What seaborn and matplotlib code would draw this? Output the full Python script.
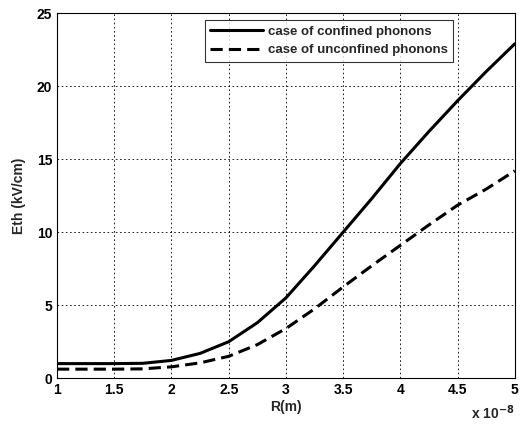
import numpy as np
import pandas as pd
import matplotlib
matplotlib.use("Agg")
import matplotlib.pyplot as plt
import matplotlib.ticker as mticker
import seaborn as sns

# --- Data ---
R_UNITS = [1.0, 1.25, 1.5, 1.75, 2.0, 2.25, 2.5, 2.75, 3.0, 3.25, 3.5, 3.75, 4.0, 4.25, 4.5, 4.75, 5.0]
ETH_CONFINED = [1.0, 1.0, 1.0, 1.02, 1.22, 1.7, 2.5, 3.8, 5.5, 7.7, 10.0, 12.3, 14.7, 16.9, 19.0, 21.0, 22.9]
ETH_UNCONFINED = [0.62, 0.62, 0.62, 0.64, 0.78, 1.05, 1.5, 2.3, 3.4, 4.75, 6.25, 7.7, 9.1, 10.5, 11.85, 12.95, 14.2]
LABELS = ["case of confined phonons", "case of unconfined phonons"]

R = np.array(R_UNITS) * 1e-8
df = pd.DataFrame({
    "R": np.concatenate([R, R]),
    "Eth": ETH_CONFINED + ETH_UNCONFINED,
    "case": [LABELS[0]] * len(R) + [LABELS[1]] * len(R),
})

# --- Plot ---
sns.set_style("white")
plt.rcParams["font.family"] = ["Liberation Sans", "DejaVu Sans"]
plt.rcParams["font.weight"] = "bold"

fig = plt.figure(figsize=(5.28, 4.24), dpi=100)
ax = fig.add_axes([0.108, 0.108, 0.867, 0.861])

sns.lineplot(data=df, x="R", y="Eth", hue="case", style="case",
             palette=["black", "black"], dashes=[(None, None), (4, 2)],
             linewidth=2.2, ax=ax)

ax.set_xlim(1e-8, 5e-8)
ax.set_ylim(0, 25)
ax.set_xticks(np.arange(1, 5.01, 0.5) * 1e-8)
ax.set_yticks([0, 5, 10, 15, 20, 25])
ax.xaxis.set_major_formatter(mticker.FuncFormatter(lambda v, p: f"{v*1e8:g}"))
ax.text(1.0, -0.07, r"x 10$^{-8}$", transform=ax.transAxes, ha="right", va="top",
        fontsize=10, fontweight="bold")

ax.grid(True, color="black", linestyle=(0, (2, 3)), linewidth=0.6)
for s in ax.spines.values():
    s.set_color("black")
    s.set_linewidth(0.8)
ax.tick_params(axis="both", direction="in", length=4, labelsize=10, colors="black")
for lab in ax.get_xticklabels() + ax.get_yticklabels():
    lab.set_fontweight("bold")

ax.set_xlabel("R(m)", fontsize=10, fontweight="bold", labelpad=2)
ax.set_ylabel("Eth (kV/cm)", fontsize=10, fontweight="bold", labelpad=8)

leg = ax.legend(loc="upper right", bbox_to_anchor=(0.865, 0.981), borderaxespad=0,
                frameon=True, fancybox=False, handlelength=4, handletextpad=0.4,
                fontsize=9.5)
leg.get_frame().set_edgecolor("black")
leg.get_frame().set_linewidth(0.8)
for t in leg.get_texts():
    t.set_fontweight("bold")

fig.savefig("out.png", dpi=100)
